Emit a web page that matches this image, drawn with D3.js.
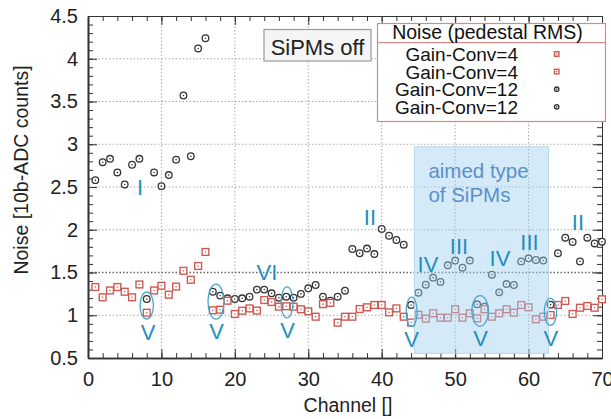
<!DOCTYPE html>
<html>
<head>
<meta charset="utf-8">
<script src="https://cdn.jsdelivr.net/npm/d3@7"></script>
<style>
  body { margin: 0; background: #fff; }
  svg { display: block; font-family: "Liberation Sans", Arial, sans-serif; }
  .axis path, .axis line { stroke: #333; }
  .axis text { fill: #222; font-size: 20px; font-family: "Liberation Sans", Arial, sans-serif; }
</style>
</head>
<body>
<div id="chart"></div>
<script>

// channel numbers and the two noise series (pedestal RMS, 10b-ADC counts)
var channels = d3.range(1, 71);

var gainConv4 = [
  1.33, 1.21, 1.29, 1.33, 1.275, 1.21, 1.36, 1.03, 1.29, 1.345,
  1.24, 1.335, 1.52, 1.415, 1.576, 1.74, 1.058, 1.065, 1.17, 1.015,
  1.053, 1.08, 1.055, 1.178, 1.155, 1.10, 1.105, 1.10, 1.07, 1.046,
  0.983, 1.13, 1.145, 0.913, 0.983, 0.983, 1.073, 1.093, 1.12, 1.12,
  1.034, 1.08, 0.983, 0.915, 1.006, 0.96, 1.023, 0.971, 0.971, 1.07,
  0.971, 1.023, 0.964, 1.07, 0.983, 1.023, 1.07, 1.03, 1.12, 1.093,
  0.953, 0.983, 1.003, 1.12, 1.167, 1.015, 1.088, 1.108, 1.088, 1.187
];

var gainConv12 = [
  2.58, 2.79, 2.83, 2.67, 2.53, 2.76, 2.83, 1.19, 2.67, 2.51,
  2.64, 2.82, 3.57, 2.86, 4.12, 4.24, 1.275, 1.23, 1.198, 1.19,
  1.198, 1.217, 1.30, 1.30, 1.257, 1.205, 1.217, 1.205, 1.25, 1.315,
  1.354, 1.217, 1.17, 1.217, 1.287, 1.775, 1.725, 1.78, 1.716, 2.01,
  1.93, 1.88, 1.825, 1.12, 1.264, 1.357, 1.44, 1.39, 1.584, 1.64,
  1.556, 1.64, 1.128, 1.10, 1.474, 1.268, 1.365, 1.354, 1.63, 1.666,
  1.646, 1.64, 1.124, 1.725, 1.907, 1.857, 1.63, 1.907, 1.84, 1.86
];

var xTicks = [0, 10, 20, 30, 40, 50, 60, 70];
var yTicks = [0.5, 1, 1.5, 2, 2.5, 3, 3.5, 4, 4.5];

var legendTitle = "Noise (pedestal RMS)";
var legendLabels = ["Gain-Conv=4", "Gain-Conv=4", "Gain-Conv=12", "Gain-Conv=12"];
var legendKinds  = ["square", "square", "circle", "circle"];

// SiPM type labels, anchored at (channel, noise)
var typeLabels = [
  {t: "I",   ch: 7.08,  v: 2.406},
  {t: "VI",  ch: 24.38, v: 1.418},
  {t: "II",  ch: 38.4,  v: 2.056},
  {t: "IV",  ch: 46.3,  v: 1.506},
  {t: "III", ch: 50.52, v: 1.716},
  {t: "IV",  ch: 56.1,  v: 1.576},
  {t: "III", ch: 60.13, v: 1.763},
  {t: "II",  ch: 66.73, v: 1.997},
  {t: "V",   ch: 8.17,  v: 0.71},
  {t: "V",   ch: 17.5,  v: 0.722},
  {t: "V",   ch: 27.17, v: 0.734},
  {t: "V",   ch: 44.06, v: 0.629},
  {t: "V",   ch: 53.45, v: 0.64},
  {t: "V",   ch: 63.05, v: 0.64}
];

// ellipses round the type V channels: centre and half extents in data units
var typeVRings = [
  {ch: 8.0,   v: 1.114, dch: 0.91, dv: 0.158},
  {ch: 17.43, v: 1.16,  dch: 1.09, dv: 0.205},
  {ch: 27.1,  v: 1.15,  dch: 0.82, dv: 0.181},
  {ch: 44.07, v: 1.04,  dch: 0.75, dv: 0.173},
  {ch: 53.4,  v: 1.05,  dch: 1.13, dv: 0.179},
  {ch: 62.98, v: 1.04,  dch: 0.84, dv: 0.158}
];

var aimedRange = {ch: [44.45, 62.7], v: [0.555, 2.97]};
var aimedText = ["aimed type", "of SiPMs"];

var W = 611, H = 419;
var plot = {l: 88, r: 602, t: 16, b: 358};

var svg = d3.select("#chart").append("svg")
            .attr("width", W)
            .attr("height", H);

svg.append("rect").attr("width", W).attr("height", H).attr("fill", "#fff");

var x = d3.scaleLinear().domain([0, 70]).range([plot.l, plot.r]);
var y = d3.scaleLinear().domain([0.5, 4.5]).range([plot.b, plot.t]);

// grid
svg.append("g").selectAll("line")
   .data(xTicks.slice(1, -1))
   .enter().append("line")
   .attr("x1", function(d) { return x(d); }).attr("x2", function(d) { return x(d); })
   .attr("y1", plot.t).attr("y2", plot.b)
   .attr("stroke", "#aaa").attr("stroke-width", 1).attr("stroke-dasharray", "1.5,2");

svg.append("g").selectAll("line")
   .data(yTicks.slice(1, -1))
   .enter().append("line")
   .attr("x1", plot.l).attr("x2", plot.r)
   .attr("y1", function(d) { return y(d); }).attr("y2", function(d) { return y(d); })
   .attr("stroke", function(d) { return d == 1.5 ? "#666" : "#aaa"; })
   .attr("stroke-width", function(d) { return d == 1.5 ? 1.3 : 1; })
   .attr("stroke-dasharray", "1.5,2");

// axes: major + minor, ticks pointing inwards
function styleAxis(g, col, w) {
  g.attr("class", "axis");
  g.selectAll("path").attr("stroke", col).attr("stroke-width", w);
  g.selectAll("line").attr("stroke", col).attr("stroke-width", 1);
}

var minorX = d3.range(0, 71, 2), minorY = d3.range(0.5, 4.51, 0.1);

svg.append("g").attr("transform", "translate(0," + plot.t + ")")
   .call(d3.axisTop(x).tickValues(minorX).tickFormat("").tickSizeInner(-5).tickSizeOuter(0))
   .call(styleAxis, "#888", 1);
svg.append("g").attr("transform", "translate(0," + plot.t + ")")
   .call(d3.axisTop(x).tickValues(xTicks).tickFormat("").tickSizeInner(-9).tickSizeOuter(0))
   .call(styleAxis, "#888", 1);
svg.append("g").attr("transform", "translate(" + plot.r + ",0)")
   .call(d3.axisRight(y).tickValues(minorY).tickFormat("").tickSizeInner(-5).tickSizeOuter(0))
   .call(styleAxis, "#888", 1);
svg.append("g").attr("transform", "translate(" + plot.r + ",0)")
   .call(d3.axisRight(y).tickValues(yTicks).tickFormat("").tickSizeInner(-9).tickSizeOuter(0))
   .call(styleAxis, "#888", 1);

svg.append("g").attr("transform", "translate(0," + plot.b + ")")
   .call(d3.axisBottom(x).tickValues(minorX).tickFormat("").tickSizeInner(-5).tickSizeOuter(0))
   .call(styleAxis, "#333", 1.6);
svg.append("g").attr("transform", "translate(0," + plot.b + ")")
   .call(d3.axisBottom(x).tickValues(xTicks).tickFormat(d3.format("d")).tickSizeInner(-9).tickSizeOuter(0).tickPadding(14))
   .call(styleAxis, "#333", 1.6);
svg.append("g").attr("transform", "translate(" + plot.l + ",0)")
   .call(d3.axisLeft(y).tickValues(minorY).tickFormat("").tickSizeInner(-5).tickSizeOuter(0))
   .call(styleAxis, "#333", 1.6);
svg.append("g").attr("transform", "translate(" + plot.l + ",0)")
   .call(d3.axisLeft(y).tickValues(yTicks).tickFormat(function(d) { return d; }).tickSizeInner(-9).tickSizeOuter(0).tickPadding(10))
   .call(styleAxis, "#333", 1.6);

// axis titles
svg.append("text")
   .attr("x", 348).attr("y", 412)
   .attr("text-anchor", "middle")
   .attr("font-size", "19.5px").attr("fill", "#222")
   .text("Channel []");

svg.append("text")
   .attr("transform", "translate(28,170) rotate(-90)")
   .attr("text-anchor", "middle")
   .attr("font-size", "19.5px").attr("fill", "#222")
   .text("Noise [10b-ADC counts]");

// markers
var sqCol = "#cf5a52", ciCol = "#333";

function drawSquare(sel, cx, cy, s) {
  sel.append("rect")
     .attr("x", cx - s / 2).attr("y", cy - s / 2)
     .attr("width", s).attr("height", s)
     .attr("fill", "#fff").attr("stroke", sqCol).attr("stroke-width", 1.4);
  sel.append("circle").attr("cx", cx).attr("cy", cy).attr("r", 0.8).attr("fill", sqCol);
}

function drawCircle(sel, cx, cy, r) {
  sel.append("circle")
     .attr("cx", cx).attr("cy", cy).attr("r", r)
     .attr("fill", "#fff").attr("stroke", ciCol).attr("stroke-width", 1.3);
  sel.append("circle").attr("cx", cx).attr("cy", cy).attr("r", 0.8).attr("fill", ciCol);
}

var gPts = svg.append("g");
channels.forEach(function(ch, i) {
  drawCircle(gPts, x(ch), y(gainConv12[i]), 3.3);
});
channels.forEach(function(ch, i) {
  drawSquare(gPts, x(ch), y(gainConv4[i]), 6.8);
});

// aimed type band
svg.append("rect")
   .attr("x", x(aimedRange.ch[0])).attr("y", y(aimedRange.v[1]))
   .attr("width", x(aimedRange.ch[1]) - x(aimedRange.ch[0]))
   .attr("height", y(aimedRange.v[0]) - y(aimedRange.v[1]))
   .attr("fill", "#9fd0f2").attr("fill-opacity", 0.45)
   .attr("stroke", "#b8d6ea").attr("stroke-width", 1);

svg.append("g").selectAll("text")
   .data(aimedText)
   .enter().append("text")
   .attr("x", x(aimedRange.ch[0]) + 14)
   .attr("y", function(d, i) { return 178 + i * 23.5; })
   .attr("font-size", "20.5px").attr("fill", "#5a8fcb")
   .text(function(d) { return d; });

// type V ellipses and labels
svg.append("g").selectAll("ellipse")
   .data(typeVRings)
   .enter().append("ellipse")
   .attr("cx", function(d) { return x(d.ch); })
   .attr("cy", function(d) { return y(d.v); })
   .attr("rx", function(d) { return x(d.dch) - x(0); })
   .attr("ry", function(d) { return y(0.5) - y(0.5 + d.dv); })
   .attr("fill", "none").attr("stroke", "#45a6cc").attr("stroke-width", 1.3);

svg.append("g").selectAll("text")
   .data(typeLabels)
   .enter().append("text")
   .attr("x", function(d) { return x(d.ch); })
   .attr("y", function(d) { return y(d.v); })
   .attr("text-anchor", "middle")
   .attr("font-size", "22px").attr("fill", "#1f8fbd")
   .text(function(d) { return d.t; });

// SiPMs off box
svg.append("rect")
   .attr("x", 264).attr("y", 29.5).attr("width", 107).attr("height", 31.5)
   .attr("fill", "#f5f5f5").attr("stroke", "#999").attr("stroke-width", 1.2);
svg.append("text")
   .attr("x", 317.5).attr("y", 55)
   .attr("text-anchor", "middle")
   .attr("font-size", "22px").attr("fill", "#222")
   .text("SiPMs off");

// legend
var leg = svg.append("g");
leg.append("rect")
   .attr("x", 377.5).attr("y", 23.5).attr("width", 228).attr("height", 98)
   .attr("fill", "#fff").attr("stroke", "#d28c88").attr("stroke-width", 1.2);
leg.append("line")
   .attr("x1", 377.5).attr("x2", 605.5).attr("y1", 42.7).attr("y2", 42.7)
   .attr("stroke", "#d28c88").attr("stroke-width", 1.2);
leg.append("text")
   .attr("x", 487.5).attr("y", 38.5)
   .attr("text-anchor", "middle")
   .attr("font-size", "19.5px").attr("fill", "#111")
   .text(legendTitle);

legendLabels.forEach(function(lab, i) {
  var by = 61 + i * 17.6;
  leg.append("text")
     .attr("x", 518).attr("y", by)
     .attr("text-anchor", "end")
     .attr("font-size", "19px").attr("fill", "#111")
     .text(lab);
  if (legendKinds[i] == "square") drawSquare(leg, 556.7, by - 7, 4.5);
  else drawCircle(leg, 556.7, by - 7, 2.2);
});

</script>
</body>
</html>
